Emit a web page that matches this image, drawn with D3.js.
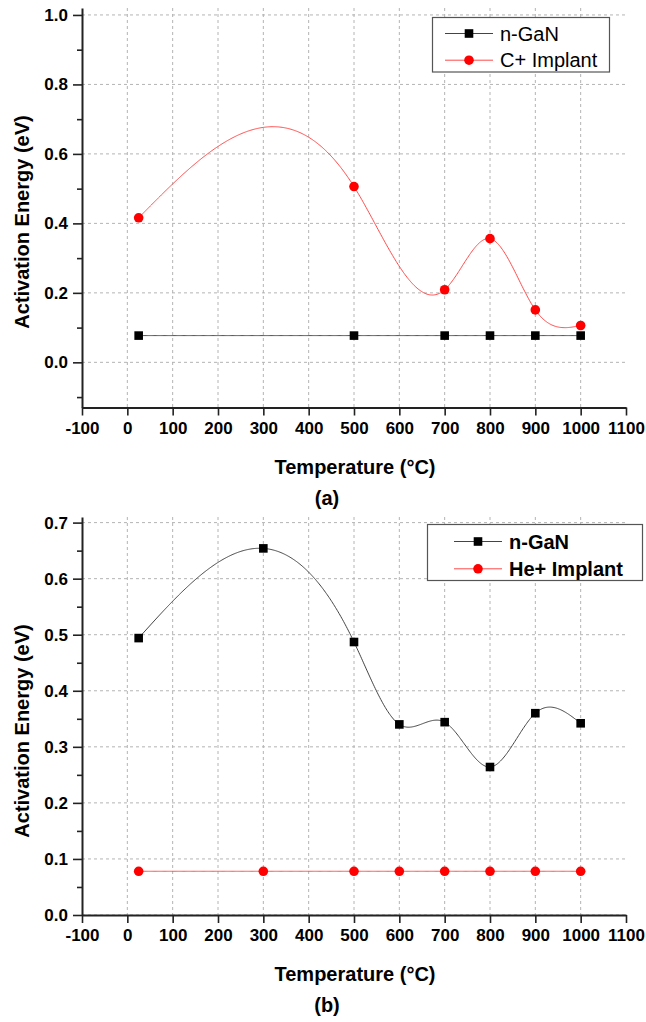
<!DOCTYPE html>
<html>
<head>
<meta charset="utf-8">
<script src="https://cdn.jsdelivr.net/npm/d3@7"></script>
<style>
  body { margin: 0; background: #fff; }
  text { font-family: Arial, "Liberation Sans", sans-serif; }
</style>
</head>
<body>
<div id="chart"></div>
<script>
// 1. DATA
// ======================================

// 1.1 Panel (a): n-GaN vs C+ implant
var tempA_ngan = [25, 500, 700, 800, 900, 1000];
var energyA_ngan = [0.077, 0.077, 0.077, 0.077, 0.077, 0.077];
var tempA_c = [25, 500, 700, 800, 900, 1000];
var energyA_c = [0.416, 0.506, 0.209, 0.356, 0.151, 0.106];

// 1.2 Panel (b): n-GaN vs He+ implant
var tempB_ngan = [25, 300, 500, 600, 700, 800, 900, 1000];
var energyB_ngan = [0.494, 0.654, 0.487, 0.340, 0.344, 0.264, 0.360, 0.342];
var tempB_he = [25, 300, 500, 600, 700, 800, 900, 1000];
var energyB_he = [0.078, 0.078, 0.078, 0.078, 0.078, 0.078, 0.078, 0.078];

// 1.3 Tick values
var xTicks = [-100, 0, 100, 200, 300, 400, 500, 600, 700, 800, 900, 1000, 1100];
var xGrid = [0, 100, 200, 300, 400, 500, 600, 700, 800, 900, 1000];
var yTicksA = [0.0, 0.2, 0.4, 0.6, 0.8, 1.0];
var yMinorA = [-0.1, 0.1, 0.3, 0.5, 0.7, 0.9];
var yTicksB = [0.0, 0.1, 0.2, 0.3, 0.4, 0.5, 0.6, 0.7];
var yMinorB = [0.05, 0.15, 0.25, 0.35, 0.45, 0.55, 0.65];

// 2. SVG
// ======================================
var svgWidth = 646;
var svgHeight = 1022;

var svg = d3.select("#chart")
  .append("svg")
  .attr("width", svgWidth)
  .attr("height", svgHeight);

var xLeft = 82;
var xRight = 626;

var red = "#ff0000";
var black = "#000000";

// 3. HELPERS
// ======================================

// 3.1 natural cubic spline, y as a function of x (like Origin's spline connect)
function naturalSpline(xs, ys) {
  var n = xs.length;
  var h = [], alpha = [], l = [1], mu = [0], z = [0], b = [], c = [], d = [];
  for (var i = 0; i < n - 1; i++) h[i] = xs[i + 1] - xs[i];
  for (var i = 1; i < n - 1; i++) {
    alpha[i] = 3 / h[i] * (ys[i + 1] - ys[i]) - 3 / h[i - 1] * (ys[i] - ys[i - 1]);
    l[i] = 2 * (xs[i + 1] - xs[i - 1]) - h[i - 1] * mu[i - 1];
    mu[i] = h[i] / l[i];
    z[i] = (alpha[i] - h[i - 1] * z[i - 1]) / l[i];
  }
  c[n - 1] = 0;
  for (var j = n - 2; j >= 0; j--) {
    c[j] = z[j] - mu[j] * c[j + 1];
    b[j] = (ys[j + 1] - ys[j]) / h[j] - h[j] * (c[j + 1] + 2 * c[j]) / 3;
    d[j] = (c[j + 1] - c[j]) / (3 * h[j]);
  }
  return function(x) {
    var k = Math.min(n - 2, Math.max(0, d3.bisectRight(xs, x) - 1));
    var dx = x - xs[k];
    return ys[k] + b[k] * dx + c[k] * dx * dx + d[k] * dx * dx * dx;
  };
}

// 3.2 tick formats with a plain hyphen for negatives
var fmtX = function(d) { return String(d); };
var fmtY = function(d) { return d.toFixed(1); };

// 3.3 draw one panel
function drawPanel(p) {
  var g = svg.append("g");

  var xScale = d3.scaleLinear().domain([-100, 1100]).range([xLeft, xRight]);
  var yScale = d3.scaleLinear().domain(p.yDomain).range([p.yBottom, p.yTop]);

  // grid
  g.append("g").selectAll("line")
    .data(p.yTicks)
    .enter()
    .append("line")
    .attr("x1", xLeft)
    .attr("x2", xRight)
    .attr("y1", function(d) { return yScale(d); })
    .attr("y2", function(d) { return yScale(d); })
    .attr("stroke", "#b4b4b4")
    .attr("stroke-width", 1)
    .attr("stroke-dasharray", "3,3");

  g.append("g").selectAll("line")
    .data(xGrid)
    .enter()
    .append("line")
    .attr("x1", function(d) { return xScale(d); })
    .attr("x2", function(d) { return xScale(d); })
    .attr("y1", p.yTop)
    .attr("y2", p.yBottom)
    .attr("stroke", "#b4b4b4")
    .attr("stroke-width", 1)
    .attr("stroke-dasharray", "3,3");

  // series
  p.series.forEach(function(s) {
    var f = naturalSpline(s.x, s.y);
    var xs = d3.range(s.x[0], s.x[s.x.length - 1], 2).concat([s.x[s.x.length - 1]]);
    var line = d3.line()
      .x(function(d) { return xScale(d); })
      .y(function(d) { return yScale(f(d)); });

    g.append("path")
      .datum(xs)
      .attr("d", line)
      .attr("fill", "none")
      .attr("stroke", s.lineColor)
      .attr("stroke-width", 1);

    var pts = s.x.map(function(v, i) { return [v, s.y[i]]; });
    if (s.shape === "square") {
      g.append("g").selectAll("rect")
        .data(pts)
        .enter()
        .append("rect")
        .attr("x", function(d) { return xScale(d[0]) - 4.3; })
        .attr("y", function(d) { return yScale(d[1]) - 4.3; })
        .attr("width", 8.6)
        .attr("height", 8.6)
        .attr("fill", s.color);
    } else {
      g.append("g").selectAll("circle")
        .data(pts)
        .enter()
        .append("circle")
        .attr("cx", function(d) { return xScale(d[0]); })
        .attr("cy", function(d) { return yScale(d[1]); })
        .attr("r", 4.8)
        .attr("fill", s.color);
    }
  });

  // axes
  g.append("g")
    .attr("transform", "translate(0," + p.yBottom + ")")
    .call(d3.axisBottom(xScale).tickValues(xTicks).tickFormat(fmtX)
      .tickSize(8).tickSizeOuter(0).tickPadding(6));

  g.append("g")
    .attr("transform", "translate(" + xLeft + ",0)")
    .call(d3.axisLeft(yScale).tickValues(p.yTicks).tickFormat(fmtY)
      .tickSize(9).tickSizeOuter(0).tickPadding(5));

  g.append("g")
    .attr("transform", "translate(" + xLeft + ",0)")
    .call(d3.axisLeft(yScale).tickValues(p.yMinor).tickFormat("")
      .tickSize(5).tickSizeOuter(0))
    .select(".domain").remove();

  g.selectAll(".domain").attr("stroke", "#222").attr("stroke-width", 2);
  g.selectAll(".tick line").attr("stroke", "#222").attr("stroke-width", 1.6);
  g.selectAll(".tick text")
    .attr("fill", "#000")
    .style("font-family", "Arial, 'Liberation Sans', sans-serif")
    .style("font-size", "17px")
    .style("font-weight", "bold");

  // axis titles
  g.append("text")
    .attr("x", 355)
    .attr("y", p.yBottom + 66)
    .attr("text-anchor", "middle")
    .style("font-size", "20px")
    .style("font-weight", "bold")
    .text("Temperature (°C)");

  g.append("text")
    .attr("transform", "translate(29," + p.yTitleCenter + ") rotate(-90)")
    .attr("text-anchor", "middle")
    .style("font-size", "20px")
    .style("font-weight", "bold")
    .text("Activation Energy (eV)");

  g.append("text")
    .attr("x", 327)
    .attr("y", p.yBottom + 97)
    .attr("text-anchor", "middle")
    .style("font-size", "20px")
    .style("font-weight", "bold")
    .text(p.label);

  // legend
  var lg = g.append("g");
  lg.append("rect")
    .attr("x", p.legend.x)
    .attr("y", p.legend.y)
    .attr("width", p.legend.w)
    .attr("height", p.legend.h)
    .attr("fill", "#fff")
    .attr("stroke", "#555")
    .attr("stroke-width", 1.2);

  p.series.forEach(function(s, i) {
    var cy = p.legend.y + p.legend.row0 + i * p.legend.rowStep;
    var lx = p.legend.x + p.legend.lineOff;
    lg.append("line")
      .attr("x1", lx)
      .attr("x2", lx + 48)
      .attr("y1", cy)
      .attr("y2", cy)
      .attr("stroke", s.lineColor)
      .attr("stroke-width", 1);
    if (s.shape === "square") {
      lg.append("rect")
        .attr("x", lx + 24 - 4.3)
        .attr("y", cy - 4.3)
        .attr("width", 8.6)
        .attr("height", 8.6)
        .attr("fill", s.color);
    } else {
      lg.append("circle")
        .attr("cx", lx + 24)
        .attr("cy", cy)
        .attr("r", 4.8)
        .attr("fill", s.color);
    }
    lg.append("text")
      .attr("x", lx + p.legend.textOff)
      .attr("y", cy + 7)
      .style("font-size", "20px")
      .style("font-weight", p.legend.bold ? "bold" : "normal")
      .text(s.name);
  });
}

// 4. DRAW
// ======================================
drawPanel({
  yDomain: [-0.13, 1.02],
  yTop: 8,
  yBottom: 407.5,
  yTicks: yTicksA,
  yMinor: yMinorA,
  yTitleCenter: 222,
  label: "(a)",
  series: [
    { name: "n-GaN", x: tempA_ngan, y: energyA_ngan, shape: "square", color: black, lineColor: "#444" },
    { name: "C+ Implant", x: tempA_c, y: energyA_c, shape: "circle", color: red, lineColor: "#ff4a4a" }
  ],
  legend: { x: 432.5, y: 17.5, w: 177, h: 54.5, row0: 16, rowStep: 26.7, lineOff: 12.5, textOff: 55, bold: false }
});

drawPanel({
  yDomain: [0, 0.71],
  yTop: 517,
  yBottom: 915,
  yTicks: yTicksB,
  yMinor: yMinorB,
  yTitleCenter: 731,
  label: "(b)",
  series: [
    { name: "n-GaN", x: tempB_ngan, y: energyB_ngan, shape: "square", color: black, lineColor: "#444" },
    { name: "He+ Implant", x: tempB_he, y: energyB_he, shape: "circle", color: red, lineColor: "#ff4a4a" }
  ],
  legend: { x: 427.5, y: 524.5, w: 215, h: 56, row0: 17, rowStep: 27.3, lineOff: 26.5, textOff: 55, bold: true }
});
</script>
</body>
</html>
